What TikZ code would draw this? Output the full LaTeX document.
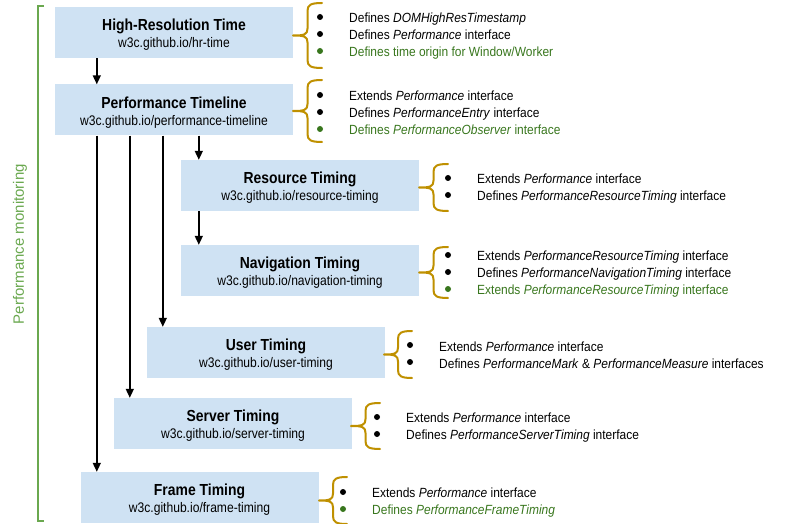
\documentclass[tikz,border=0pt]{standalone}
\usepackage{fontspec}
\setmainfont{Liberation Sans}[FakeStretch=0.87]
\newfontfamily\labelfont{Liberation Sans}
\newfontfamily\listfont{Liberation Sans}[FakeStretch=0.9]
\usetikzlibrary{arrows.meta}
\definecolor{boxblue}{HTML}{CFE2F3}
\definecolor{bracegold}{HTML}{BF9000}
\definecolor{tgreen}{HTML}{38761D}
\definecolor{lgreen}{HTML}{6AA84F}
\newcommand\ttl[1]{{\rule{0pt}{16.5pt}\fontsize{16}{17}\selectfont\bfseries #1}}
\newcommand\gtx[1]{{\color{tgreen}#1}}
% curly brace: right x, tip x, top y, bottom y
\newcommand\gbrace[4]{%
  \pgfmathsetmacro\bm{(#1+#2)/2}%
  \pgfmathsetmacro\bc{(#3+#4)/2}%
  \draw[brc] (#1,#3) .. controls (\bm+3,#3) and (\bm,#3+2) .. (\bm,#3+8)
    -- (\bm,\bc-7) .. controls (\bm,\bc-1) and (\bm-3,\bc) .. (#2,\bc)
    .. controls (\bm-3,\bc) and (\bm,\bc+1) .. (\bm,\bc+7)
    -- (\bm,#4-8) .. controls (\bm,#4-2) and (\bm+3,#4) .. (#1,#4);}
\tikzset{
  specbox/.style={fill=boxblue, minimum width=238pt, minimum height=51pt, inner sep=0pt,
    align=center, font=\fontsize{13.9}{17}\selectfont},
  listnode/.style={anchor=west, inner sep=0pt, align=left, font=\listfont\fontsize{13.3}{17}\selectfont},
  arr/.style={line width=1.5pt, -{Triangle[length=9pt,width=8pt]}},
  brc/.style={draw=bracegold, line width=2pt, line cap=round, line join=round},
  dot/.style={fill=black},
  gdot/.style={fill=tgreen},
}
\newcommand\bdot[3]{\fill[#1] (#2,#3) circle (3pt);}
\begin{document}
\begin{tikzpicture}[x=1pt,y=-1pt]
\useasboundingbox (0,0) rectangle (809,524);

% group bracket
\coordinate (gt) at (44,6);
\coordinate (gb) at (44,521);
\draw[lgreen, line width=1.5pt] (gt) -- (38,6) -- (38,521) -- (gb);
\node[rotate=90, text=lgreen, font=\labelfont\fontsize{15}{17}\selectfont, inner sep=0pt] (lbl) at (20,244) {Performance monitoring};

% boxes
\node[specbox] (hr) at (174,32.5) {\ttl{High-Resolution Time}\\w3c.github.io/hr-time};
\node[specbox] (pt) at (174,110) {\ttl{Performance Timeline}\\w3c.github.io/performance-timeline};
\node[specbox] (rt) at (300,185.5) {\ttl{Resource Timing}\\w3c.github.io/resource-timing};
\node[specbox] (nt) at (300,270.5) {\ttl{Navigation Timing}\\w3c.github.io/navigation-timing};
\node[specbox] (ut) at (266,352.5) {\ttl{User Timing}\\w3c.github.io/user-timing};
\node[specbox] (st) at (233,423.5) {\ttl{Server Timing}\\w3c.github.io/server-timing};
\node[specbox] (ft) at (199.5,497.5) {\ttl{Frame Timing}\\w3c.github.io/frame-timing};

% arrows
\draw[arr] ([xshift=42pt]hr.south west) coordinate (a1) -- (a1 |- pt.north);
\draw[arr] ([xshift=42pt]pt.south west) coordinate (a2) -- (a2 |- ft.north);
\draw[arr] ([xshift=75pt]pt.south west) coordinate (a3) -- (a3 |- st.north);
\draw[arr] ([xshift=108pt]pt.south west) coordinate (a4) -- (a4 |- ut.north);
\draw[arr] ([xshift=144pt]pt.south west) coordinate (a5) -- (a5 |- rt.north);
\draw[arr] ([xshift=18pt]rt.south west) coordinate (a6) -- (a6 |- nt.north);

% braces
\gbrace{322}{293}{3}{68}
\gbrace{322}{293}{80}{142}
\gbrace{448}{419}{164}{211}
\gbrace{448}{419}{247}{298}
\gbrace{412}{384}{331}{378}
\gbrace{380}{351}{403}{449}
\gbrace{347}{319}{477}{524}

% bullets
\bdot{dot}{320}{17}\bdot{dot}{320}{34}\bdot{gdot}{320}{51}
\bdot{dot}{320}{95}\bdot{dot}{320}{112}\bdot{gdot}{320}{129}
\bdot{dot}{448}{178}\bdot{dot}{448}{195}
\bdot{dot}{448}{255}\bdot{dot}{448}{272}\bdot{gdot}{448}{289}
\bdot{dot}{410}{345}\bdot{dot}{410}{362}
\bdot{dot}{377}{417}\bdot{dot}{377}{434}
\bdot{dot}{343}{492}\bdot{gdot}{343}{509}

% lists
\node[listnode] (l1) at (349,36) {Defines \textit{DOMHighResTimestamp}\\
Defines \textit{Performance} interface\\
\gtx{Defines time origin for Window/Worker}};
\node[listnode] (l2) at (349,113) {Extends \textit{Performance} interface\\
Defines \textit{PerformanceEntry} interface\\
\gtx{Defines \textit{PerformanceObserver} interface}};
\node[listnode] (l3) at (477,188.5) {Extends \textit{Performance} interface\\
Defines \textit{PerformanceResourceTiming} interface};
\node[listnode] (l4) at (477,274) {Extends \textit{PerformanceResourceTiming} interface\\
Defines \textit{PerformanceNavigationTiming} interface\\
\gtx{Extends \textit{PerformanceResourceTiming} interface}};
\node[listnode] (l5) at (439,355.5) {Extends \textit{Performance} interface\\
Defines \textit{PerformanceMark} \& \textit{PerformanceMeasure} interfaces};
\node[listnode] (l6) at (406,427.5) {Extends \textit{Performance} interface\\
Defines \textit{PerformanceServerTiming} interface};
\node[listnode] (l7) at (372,502.5) {Extends \textit{Performance} interface\\
\gtx{Defines \textit{PerformanceFrameTiming}}};
\end{tikzpicture}
\end{document}
